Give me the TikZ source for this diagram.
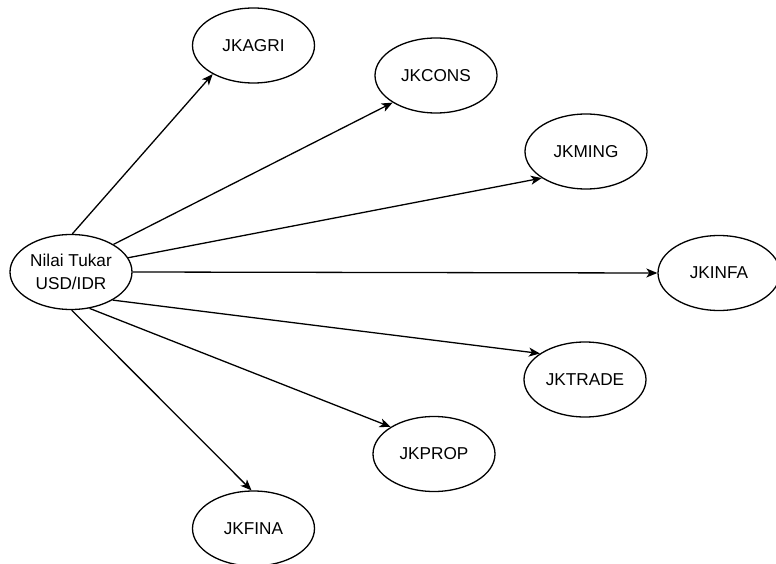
\documentclass[tikz,border=0pt]{standalone}
\usepackage{fontspec}
\setmainfont{Liberation Sans}
\usetikzlibrary{shapes.geometric,arrows.meta}
\begin{document}
\begin{tikzpicture}[x=1pt,y=-1pt,
  ell/.style={ellipse,draw,line width=1.3pt,minimum width=122pt,minimum height=75pt,inner sep=0pt,
    font=\fontsize{17.2}{22.5}\selectfont,align=center},
  conn/.style={line width=1.3pt,-{Stealth[length=11pt,width=9pt,inset=3pt]}}]
\useasboundingbox (0,0) rectangle (776,564);
\node[ell] (src) at (71,272) {Nilai Tukar\\USD/IDR};
\node[ell] (agri) at (253.5,45.5) {JKAGRI};
\node[ell] (cons) at (436,75.5) {JKCONS};
\node[ell] (ming) at (586,151.5) {JKMING};
\node[ell] (infa) at (719,273) {JKINFA};
\node[ell] (trade) at (585,379.5) {JKTRADE};
\node[ell] (prop) at (434,454) {JKPROP};
\node[ell] (fina) at (253.5,528.5) {JKFINA};
\draw[conn] (src.88) -- (agri.215);
\draw[conn] (src.33) -- (cons.212);
\draw[conn] (src.14) -- (ming.211);
\draw[conn] (src.0) -- (infa.180);
\draw[conn] (src.-34) -- (trade.150);
\draw[conn] (src.-63) -- (prop.148);
\draw[conn] (src.-89) -- (fina.93);
\end{tikzpicture}
\end{document}
